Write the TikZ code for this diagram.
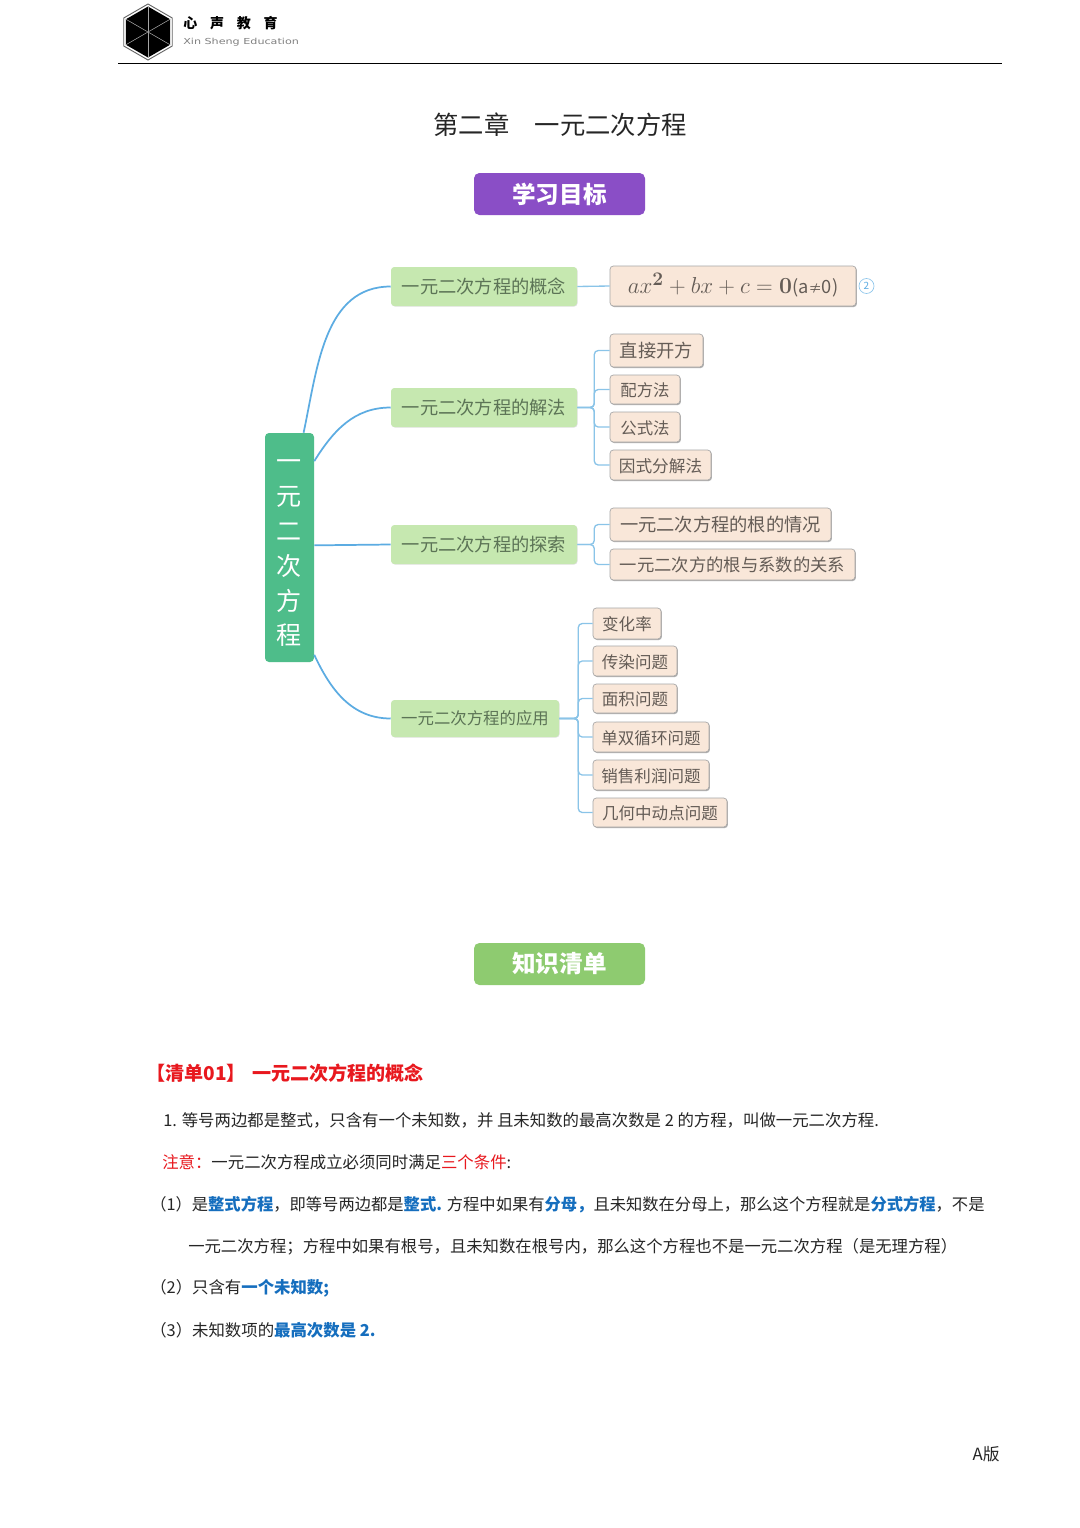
\documentclass[tikz,border=0pt]{standalone}
\usepackage[no-math]{fontspec}
\usepackage{xcolor}
\usepackage{graphicx}
\setmainfont{Noto Sans CJK SC}
\newfontfamily\logofont{DejaVu Sans}
\usetikzlibrary{shapes.geometric,shadows}
\definecolor{genlv}{RGB}{78,189,138}
\definecolor{yejilv}{RGB}{198,232,176}
\definecolor{yejizi}{RGB}{92,116,86}
\definecolor{chengdi}{RGB}{249,231,217}
\definecolor{chengzi}{RGB}{100,92,86}
\definecolor{quxianlan}{RGB}{92,172,226}
\definecolor{zhexianlan}{RGB}{138,196,232}
\definecolor{anniuzi}{RGB}{138,78,198}
\definecolor{anniulv}{RGB}{142,203,112}
\definecolor{lanzi}{RGB}{21,110,190}
\definecolor{hongzi}{RGB}{232,24,30}
\definecolor{heizi}{RGB}{38,38,38}
\newcommand{\px}{0.75pt}
\newcommand{\lan}[1]{\textcolor{lanzi}{\bfseries #1}}
\newcommand{\hong}[1]{\textcolor{hongzi}{#1}}
\tikzset{
    gen/.style={fill=genlv,text=white,rounded corners=3pt,align=center,inner sep=0pt,font=\fontsize{18.8}{26.1}\selectfont},
    yiji/.style={fill=yejilv,text=yejizi,rounded corners=2.5pt,inner sep=0pt,font=\fontsize{13.7}{16}\selectfont,drop shadow={shadow xshift=0.4pt,shadow yshift=-0.4pt,fill=gray!40,opacity=0.6}},
    erji/.style={fill=chengdi,text=chengzi,draw=gray!70,line width=0.5pt,rounded corners=2.5pt,inner sep=0pt,text height=13pt,text depth=1.9pt,font=\fontsize{13.7}{16}\selectfont,drop shadow={shadow xshift=0.7pt,shadow yshift=-0.8pt,fill=gray!70,opacity=0.9}},
    sanji/.style={erji,font=\fontsize{12.4}{15}\selectfont},
    anniu/.style={text=white,rounded corners=4pt,minimum width=171*\px,minimum height=42*\px,inner sep=0pt,font=\fontsize{17.7}{22}\selectfont\bfseries},
    quxian/.style={draw=quxianlan,line width=1.3pt},
    zhexian/.style={draw=zhexianlan,line width=1pt,rounded corners=3pt},
    zhengwen/.style={anchor=west,inner sep=0pt,text=heizi,font=\fontsize{12.3}{15}\selectfont},
}
\begin{document}
\begin{tikzpicture}[x=\px,y=-\px]
    \useasboundingbox[fill=white] (0,0) rectangle (1080,1528);
    \node[regular polygon,regular polygon sides=6,regular polygon rotate=30,draw=gray!80!black,fill=white,line width=0.7pt,minimum size=56*\px,inner sep=0pt] (logowai) at (148,32) {};
    \node[regular polygon,regular polygon sides=6,regular polygon rotate=30,fill=black,minimum size=51*\px,inner sep=0pt] (logonei) at (148,32) {};
    \draw[gray!70,line width=0.4pt] (logonei.corner 1) -- (logonei.corner 4);
    \draw[gray!70,line width=0.4pt] (logonei.corner 2) -- (logonei.corner 5);
    \draw[gray!70,line width=0.4pt] (logonei.corner 3) -- (logonei.corner 6);
    \node[anchor=west,inner sep=0pt,font=\fontsize{10.5}{12}\selectfont\bfseries] (logozi) at (183,23) {心\hspace{9.6pt}声\hspace{9.6pt}教\hspace{9.6pt}育};
    \node[anchor=west,inner sep=0pt,text=gray,font=\logofont\fontsize{6.2}{7}\selectfont] (logoen) at (183,42.5) {\scalebox{1.35}[1]{Xin Sheng Education}};
    \draw[black,line width=0.7pt] (118,63) -- (1002,63);
    \node[text=heizi,inner sep=0pt,font=\fontsize{19}{22}\selectfont] (biaoti) at (560,124.5) {第二章\hspace{19pt}一元二次方程};
    \node[anniu,fill=anniuzi] (mubiao) at (559.5,194) {学习目标};
    \node[gen,minimum width=49*\px,minimum height=229*\px] (root) at (289.5,547.5) {\rule{0pt}{17pt}一\\元\\二\\次\\方\\程};
    \node[yiji,minimum width=186*\px,minimum height=39*\px] (gainian) at (484,286.5) {一元二次方程的概念};
    \node[yiji,minimum width=186*\px,minimum height=39*\px] (jiefa) at (484,407.5) {一元二次方程的解法};
    \node[yiji,minimum width=186*\px,minimum height=39*\px] (tansuo) at (484,544.5) {一元二次方程的探索};
    \node[yiji,minimum width=168*\px,minimum height=37*\px,font=\fontsize{12.3}{16}\selectfont] (yingyong) at (475,718.5) {一元二次方程的应用};
    \node[erji,minimum width=246*\px,minimum height=40*\px] (gongshi) at (733,286) {{\fontsize{19}{20}\selectfont$ax^{\mathbf{2}}+bx+c=\mathbf{0}$}(a{\fontsize{10}{10}\selectfont≠}0)\hspace{12pt}};
    \node[circle,draw=quxianlan!70,text=quxianlan,line width=0.5pt,inner sep=0pt,minimum size=15*\px,font=\fontsize{7.5}{9}\selectfont] (bianhao) at (866.5,286) {2};
    \node[erji,minimum width=93*\px,minimum height=33*\px] (zhijie) at (656.5,350.5) {直接开方};
    \node[erji,minimum width=70*\px,minimum height=29*\px,font=\fontsize{12.3}{15}\selectfont] (peifang) at (645,389.5) {配方法};
    \node[erji,minimum width=70*\px,minimum height=30*\px,font=\fontsize{12.3}{15}\selectfont] (gongshifa) at (645,427) {公式法};
    \node[erji,minimum width=101*\px,minimum height=30*\px,font=\fontsize{12.5}{15}\selectfont] (yinshi) at (660.5,465) {因式分解法};
    \node[erji,minimum width=221*\px,minimum height=33*\px] (qingkuang) at (720.5,524.5) {一元二次方程的根的情况};
    \node[erji,minimum width=245*\px,minimum height=31*\px,font=\fontsize{13}{15}\selectfont] (guanxi) at (732.5,564.5) {一元二次方的根与系数的关系};
    \node[sanji,minimum width=68*\px,minimum height=31*\px] (bianhua) at (627,623.5) {变化率};
    \node[sanji,minimum width=84*\px,minimum height=30*\px] (chuanran) at (635,661) {传染问题};
    \node[sanji,minimum width=84*\px,minimum height=29*\px] (mianji) at (635,698.5) {面积问题};
    \node[sanji,minimum width=116*\px,minimum height=30*\px] (xunhuan) at (651,737) {单双循环问题};
    \node[sanji,minimum width=116*\px,minimum height=30*\px] (xiaoshou) at (651,775) {销售利润问题};
    \node[sanji,minimum width=134*\px,minimum height=29*\px] (jihe) at (660,812.5) {几何中动点问题};
    \draw[quxian] (root.83) to[out=78,in=180] (gainian.west);
    \draw[quxian] (root.74) to[out=58,in=180] (jiefa.west);
    \draw[quxian] (root.5) -- (tansuo.west);
    \draw[quxian] (root.-77) to[out=-65,in=180] (yingyong.west);
    \draw[zhexian] (gainian.east) -- (gongshi.west);
    \draw[zhexian] (jiefa.east) -- ++(17,0) |- (zhijie.west);
    \draw[zhexian] (jiefa.east) -- ++(17,0) |- (peifang.west);
    \draw[zhexian] (jiefa.east) -- ++(17,0) |- (gongshifa.west);
    \draw[zhexian] (jiefa.east) -- ++(17,0) |- (yinshi.west);
    \draw[zhexian] (tansuo.east) -- ++(17,0) |- (qingkuang.west);
    \draw[zhexian] (tansuo.east) -- ++(17,0) |- (guanxi.west);
    \draw[zhexian] (yingyong.east) -- ++(19,0) |- (bianhua.west);
    \draw[zhexian] (yingyong.east) -- ++(19,0) |- (chuanran.west);
    \draw[zhexian] (yingyong.east) -- ++(19,0) |- (mianji.west);
    \draw[zhexian] (yingyong.east) -- ++(19,0) |- (xunhuan.west);
    \draw[zhexian] (yingyong.east) -- ++(19,0) |- (xiaoshou.west);
    \draw[zhexian] (yingyong.east) -- ++(19,0) |- (jihe.west);
    \node[anniu,fill=anniulv] (qingdan) at (559.5,964) {知识清单};
    \node[zhengwen,text=hongzi,font=\fontsize{14.3}{16}\selectfont\bfseries] (xiaobiao) at (146,1073.5) {【清单01】\hspace{4.7pt}一元二次方程的概念};
    \node[zhengwen] (hang1) at (163,1120) {1. 等号两边都是整式，只含有一个未知数，并 且未知数的最高次数是 2 的方程，叫做一元二次方程.};
    \node[zhengwen] (hang2) at (162,1162) {\hong{注意：}一元二次方程成立必须同时满足\hong{三个条件}:};
    \node[zhengwen,font=\fontsize{12.22}{15}\selectfont] (hang3) at (150,1204.7) {（1）是\lan{整式方程}，即等号两边都是\lan{整式.} 方程中如果有\lan{分母，}且未知数在分母上，那么这个方程就是\lan{分式方程}，不是};
    \node[zhengwen,font=\fontsize{12.27}{15}\selectfont] (hang4) at (188,1246.7) {一元二次方程；方程中如果有根号，且未知数在根号内，那么这个方程也不是一元二次方程（是无理方程）};
    \node[zhengwen] (hang5) at (150,1288.7) {（2）只含有\lan{一个未知数;}};
    \node[zhengwen] (hang6) at (150,1330) {（3）未知数项的\lan{最高次数是 2.}};
    \node[anchor=east,inner sep=0pt,text=heizi,font=\fontsize{12.6}{15}\selectfont] (banben) at (1000,1454) {A版};
\end{tikzpicture}
\end{document}
